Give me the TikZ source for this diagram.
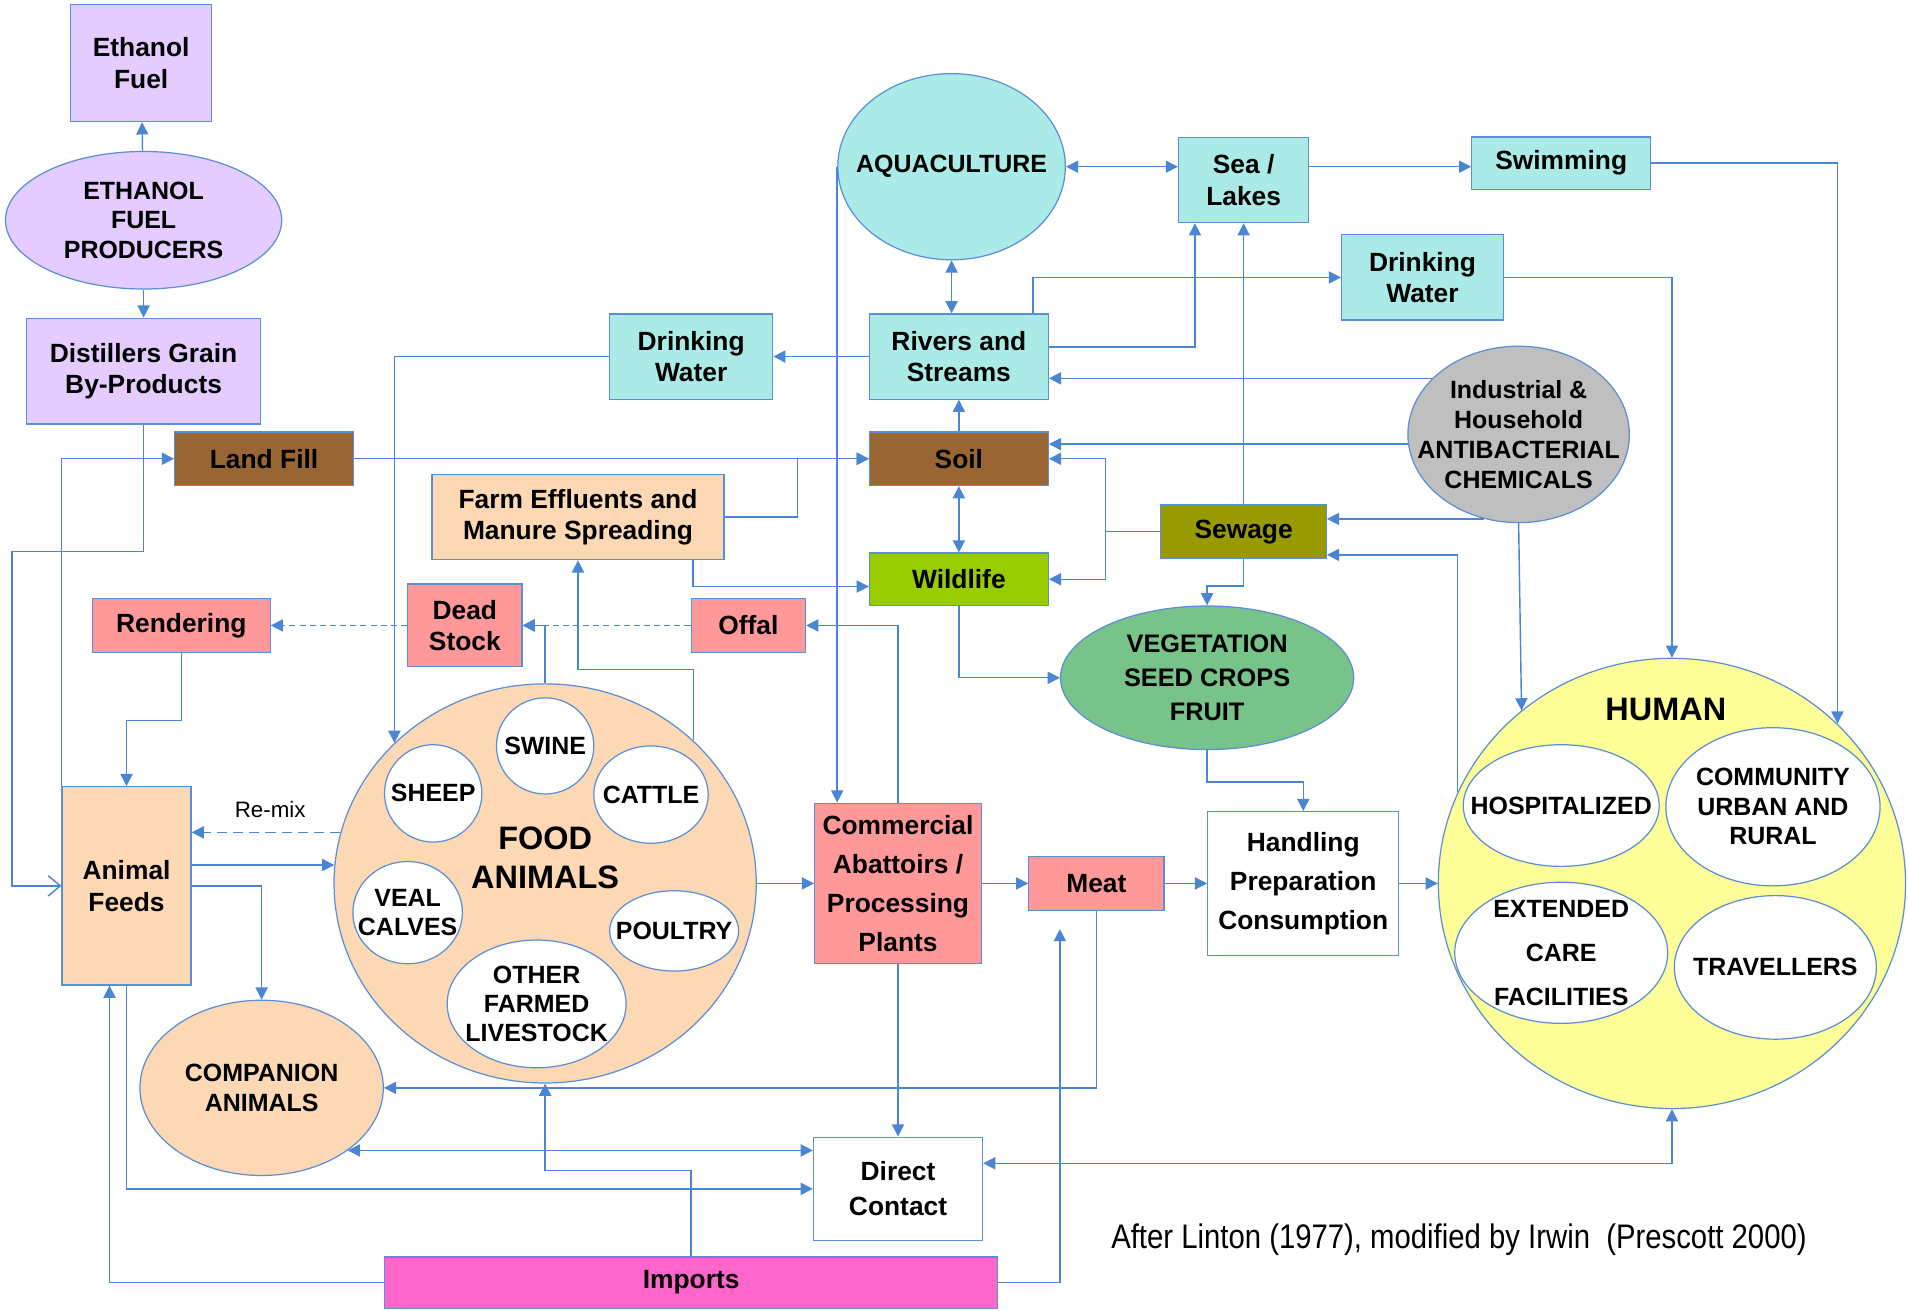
\documentclass[tikz,border=0pt]{standalone}
\usepackage{fontspec}
\setmainfont{Liberation Sans}
\newfontfamily\capfont[FakeStretch=0.86]{Liberation Sans}
\usetikzlibrary{arrows.meta,positioning,shapes.geometric}
\definecolor{lnk}{HTML}{4A86D4}
\definecolor{edge}{HTML}{5B8ED6}
\definecolor{lav}{HTML}{E4CCFF}
\definecolor{aquab}{HTML}{AAEBE8}
\definecolor{soilbr}{HTML}{996633}
\definecolor{leaf}{HTML}{99CC00}
\definecolor{sewol}{HTML}{999900}
\definecolor{salmon}{HTML}{FF9999}
\definecolor{peach}{HTML}{FCD9B4}
\definecolor{crop}{HTML}{78C38A}
\definecolor{chem}{HTML}{BFBFBF}
\definecolor{sun}{HTML}{FFFF99}
\definecolor{imp}{HTML}{FF66CC}
\begin{document}
\begin{tikzpicture}[x=0.6pt,y=-0.6pt,sz/.style 2 args={minimum width=#1*0.6pt,minimum height=#2*0.6pt},box/.style={draw=edge,line width=0.6pt,fill=#1,align=center,inner sep=0pt,font=\bfseries\fontsize{13}{15.6}\selectfont},box/.default=white,oval/.style={ellipse,draw=edge,line width=0.6pt,fill=#1,inner sep=0pt},oval/.default=white,ovtxt/.style={align=center,inner sep=0pt,font=\bfseries\fontsize{12.3}{14.5}\selectfont},txt/.style={label={[ovtxt]center:{#1}}},conn/.style={draw=lnk,line width=0.7pt,-{Triangle[length=6pt,width=6pt]}},both/.style={conn,{Triangle[length=6pt,width=6pt]}-{Triangle[length=6pt,width=6pt]}},dashconn/.style={conn,dash pattern=on 3pt off 2pt}]
\useasboundingbox (0,0) rectangle (1568,1077);
\node[box=lav,sz={116}{96}](ethfuel) at (116,52){Ethanol\\Fuel};
\node[oval=lav,sz={227}{113},txt={ETHANOL\\FUEL\\PRODUCERS}](ethprod) at (118,181){};
\node[box=lav,sz={192}{87}](distill) at (118,305){Distillers Grain\\By-Products};
\node[box=soilbr,sz={147}{44}](landfill) at (217,377){Land Fill};
\node[box=peach,sz={240}{70}](farmeff) at (475,425){Farm Effluents and\\Manure Spreading};
\node[box=aquab,sz={134}{70}](drink1) at (568,293){Drinking\\Water};
\node[box=aquab,sz={147}{70}](rivers) at (788,293){Rivers and\\Streams};
\node[box=soilbr,sz={147}{44}](soil) at (788,377){Soil};
\node[box=leaf,sz={147}{43}](wildlife) at (788,476){Wildlife};
\node[oval=aquab,sz={187}{153},txt={AQUACULTURE}](aqua) at (782,137){};
\node[box=aquab,sz={107}{70}](sea) at (1022,148){Sea /\\Lakes};
\node[box=aquab,sz={147}{43}](swim) at (1283,134){Swimming};
\node[box=aquab,sz={133}{70}](drink2) at (1169,228){Drinking\\Water};
\node[oval=chem,sz={182}{145},label={[ovtxt,font=\bfseries\fontsize{12.3}{14.8}\selectfont]center:{Industrial \&\\Household\\ANTIBACTERIAL\\CHEMICALS}}](indus) at (1248,357){};
\node[box=sewol,sz={136}{44}](sewage) at (1022,437){Sewage};
\node[oval=crop,sz={241}{118},label={[ovtxt,font=\bfseries\fontsize{12.5}{17}\selectfont]center:{VEGETATION\\SEED CROPS\\FRUIT}}](veg) at (992,557){};
\node[box,sz={157}{118},font=\bfseries\fontsize{13}{19.2}\selectfont](handling) at (1071,726){Handling\\Preparation\\Consumption};
\node[box=salmon,sz={111}{44}](meat) at (901,726){Meat};
\node[box=salmon,sz={137}{132},font=\bfseries\fontsize{13}{19.2}\selectfont](abatt) at (738,726){Commercial\\Abattoirs /\\Processing\\Plants};
\node[box,sz={139}{85},font=\bfseries\fontsize{13}{17.4}\selectfont](direct) at (738,977){Direct\\Contact};
\node[box=imp,sz={504}{42}](imports) at (568,1054){Imports};
\node[box=salmon,sz={94}{44}](offal) at (615,514){Offal};
\node[box=salmon,sz={94}{68}](dead) at (382,514){Dead\\Stock};
\node[box=salmon,sz={146}{44}](render) at (149,514){Rendering};
\node[box=peach,sz={106}{163}](feeds) at (104,728){Animal\\Feeds};
\node[oval=peach,sz={200}{144},txt={COMPANION\\ANIMALS}](companion) at (215,894){};
\node[oval=peach,sz={347}{328}](food) at (448,726){};
\node[align=center,font=\bfseries\fontsize{16}{19.2}\selectfont](foodlbl) at (448,705){FOOD\\ANIMALS};
\node[oval,sz={80}{79},txt={SWINE}](swine) at (448,613){};
\node[oval,sz={80}{80},txt={SHEEP}](sheep) at (356,652){};
\node[oval,sz={94}{80},txt={CATTLE}](cattle) at (535,653){};
\node[oval,sz={90}{84},txt={VEAL\\CALVES}](veal) at (335,750){};
\node[oval,sz={106}{66},txt={POULTRY}](poultry) at (554,765){};
\node[oval,sz={147}{105},txt={OTHER\\FARMED\\LIVESTOCK}](other) at (441,825){};
\node[oval=sun,sz={384}{370}](human) at (1374,726){};
\node[font=\bfseries\fontsize{16}{19.2}\selectfont](humanlbl) at (1369,583){HUMAN};
\node[oval,sz={161}{100},txt={HOSPITALIZED}](hosp) at (1283,662){};
\node[oval,sz={176}{130},txt={COMMUNITY\\URBAN AND\\RURAL}](comm) at (1457,663){};
\node[oval,sz={175}{116},label={[ovtxt,font=\bfseries\fontsize{12.3}{21.6}\selectfont]center:{EXTENDED\\CARE\\FACILITIES}}](ext) at (1283,783){};
\node[oval,sz={166}{118},txt={TRAVELLERS}](trav) at (1459,795){};
\node[font=\fontsize{11}{13}\selectfont](remix) at (222,665){Re-mix};
\node[font=\capfont\fontsize{16.8}{20}\selectfont](credit) at (1199,1019){After Linton (1977), modified by Irwin\ \ (Prescott 2000)};
\draw[conn](ethprod)--(ethfuel);\draw[conn](ethprod)--(distill);
\draw[conn,-{Straight Barb[length=6pt,width=10pt]}](distill.south)|-(10,453)|-(feeds.west);
\draw[conn](feeds.north west)|-(landfill.west);\draw[conn](landfill)--(soil);
\draw[conn](farmeff.east)--++(60,0)|-(soil.west);
\draw[conn]([xshift=-15.6pt]farmeff.south east)|-([yshift=-3.6pt]wildlife.west);
\draw[conn](food.44)|-(475,550)--(farmeff.south);
\draw[conn](food.north)|-(dead.east);
\draw[dashconn](offal)--(dead);\draw[dashconn](dead)--(render);
\draw[conn](render.south)|-(104,592)--(feeds.north);
\draw[conn,dash pattern=on 5pt off 3pt](food.166)--(food.166-|feeds.east);
\draw[conn](food.175-|feeds.east)--(food.175);
\draw[conn](feeds.east)-|(companion.north);
\draw[conn](feeds.south)|-(direct.west);
\draw[both](companion.324)--(companion.324-|direct.west);
\draw[conn](imports.north)|-(448,962)--(food.south);
\draw[conn](imports.west)-|([xshift=-8.4pt]feeds.south);
\draw[conn](imports.east)-|([xshift=-18pt,yshift=-9pt]meat.south);
\draw[conn](meat.south)|-(companion.east);
\draw[conn](abatt)--(direct);\draw[conn](food)--(abatt);\draw[conn](abatt)--(meat);\draw[conn](meat)--(handling);\draw[conn](handling)--(human);
\draw[both]([yshift=12.6pt]direct.east)-|(human.south);
\draw[conn](abatt.north)|-(offal.east);
\draw[conn](aqua.west)--(aqua.west|-abatt.north);
\draw[both](aqua.south)--(aqua.south|-rivers.north);
\draw[both](aqua.east)--(aqua.east-|sea.west);
\draw[conn](aqua.east-|sea.east)--(aqua.east-|swim.west);
\draw[conn](swim.east)-|(human.44);
\draw[conn](drink2.east)-|(human.north);
\draw[conn]([xshift=-7.8pt]rivers.north east)|-(drink2.west);
\draw[conn]([yshift=4.8pt]rivers.east)-|([xshift=-24pt]sea.south);
\draw[conn](sewage)--(sea);
\draw[conn](indus.147)--(indus.147-|rivers.east);
\draw[conn](indus.185)--(indus.185-|soil.east);
\draw[conn](indus.248)--(indus.248-|sewage.east);
\draw[conn](indus.south)--(human.131);
\draw[conn](human.157)|-([yshift=-11.4pt]sewage.east);
\draw[conn](sewage.west)--++(-45,0)|-(soil.east);
\draw[conn](sewage.west)--++(-45,0)|-(wildlife.east);
\draw[conn](soil)--(rivers);\draw[both](soil)--(wildlife);
\draw[conn](sewage.south)--++(0,22)-|(veg.north);
\draw[conn](wildlife.south)|-(veg.west);
\draw[conn](veg.south)--++(0,26)-|(handling.north);
\draw[conn](rivers)--(drink1);
\draw[conn](drink1.west)-|(food.137);
\end{tikzpicture}
\end{document}
